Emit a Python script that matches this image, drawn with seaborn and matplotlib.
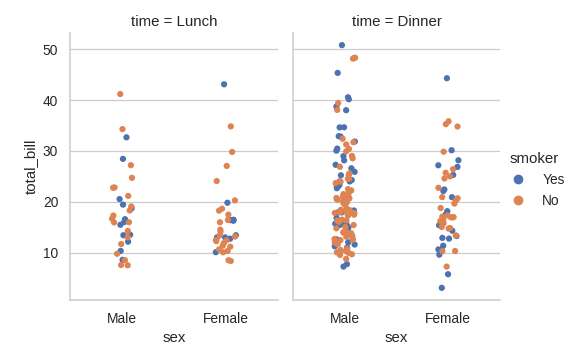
import numpy as np
import pandas as pd
import matplotlib
matplotlib.use("Agg")
import matplotlib.pyplot as plt
from matplotlib.collections import PathCollection
from matplotlib.lines import Line2D
import seaborn as sns

# total_bill values per (time, sex, smoker) group
lunch_male_yes = [19.44, 32.68, 16.00, 28.44, 15.48, 16.58, 10.34, 13.51, 18.71, 20.53,
                  12.16, 8.58, 13.42]
lunch_male_no = [27.20, 22.76, 17.29, 16.66, 15.98, 13.03, 18.28, 24.71, 21.16, 11.69,
                 14.26, 15.95, 8.52, 22.82, 19.08, 34.30, 41.19, 9.78, 7.51, 7.56]
lunch_female_yes = [19.81, 43.11, 13.00, 12.74, 13.00, 16.40, 16.47, 13.42, 16.27, 10.09]
lunch_female_no = [10.07, 34.83, 10.65, 12.43, 24.08, 13.42, 12.48, 29.80, 14.52, 11.38,
                   20.27, 11.17, 12.26, 18.26, 8.51, 10.33, 14.15, 13.16, 17.47, 27.05,
                   16.43, 8.35, 18.64, 11.87, 15.98]
dinner_male_yes = [38.01, 11.24, 20.29, 13.81, 11.02, 18.29, 15.01, 17.92, 28.97, 40.17,
                   27.28, 12.03, 21.01, 15.36, 20.49, 25.21, 50.81, 15.81, 7.25, 31.85,
                   16.82, 32.90, 17.89, 14.48, 34.63, 34.65, 23.33, 45.35, 23.17, 40.55,
                   30.46, 23.10, 15.69, 26.59, 38.73, 24.27, 30.06, 25.89, 28.15, 11.59,
                   7.74, 24.01, 15.69, 15.53, 12.60, 32.83, 22.67]
dinner_male_no = [10.34, 21.01, 23.68, 25.29, 8.77, 26.88, 15.04, 14.78, 10.27, 15.42,
                  18.43, 21.58, 16.29, 20.65, 17.92, 39.42, 19.82, 17.81, 13.37, 12.69,
                  21.70, 9.55, 18.35, 17.78, 24.06, 16.31, 18.69, 31.27, 16.04, 17.46,
                  13.94, 9.68, 30.40, 18.29, 22.23, 32.40, 28.55, 18.04, 12.54, 9.94,
                  25.56, 19.49, 48.27, 17.59, 20.08, 20.23, 12.02, 10.51, 22.49, 12.46,
                  18.24, 14.00, 38.07, 23.95, 29.93, 14.07, 13.13, 17.26, 24.55, 19.77,
                  48.17, 16.49, 21.50, 12.66, 13.81, 24.52, 20.76, 31.71, 20.69, 48.33,
                  20.45, 13.28, 11.61, 10.77, 10.07, 29.03, 17.82]
dinner_female_yes = [3.07, 26.86, 25.28, 5.75, 16.32, 11.35, 15.38, 44.30, 22.42, 14.31,
                     17.51, 10.59, 10.63, 9.60, 20.90, 18.15, 12.76, 13.27, 28.17, 12.90,
                     30.14, 22.12, 27.18]
dinner_female_no = [16.99, 24.59, 35.26, 14.83, 10.33, 16.97, 20.29, 15.77, 19.65, 15.06,
                    20.69, 16.93, 10.29, 34.81, 26.41, 16.45, 17.07, 14.73, 22.75, 20.92,
                    7.25, 25.71, 17.31, 29.85, 25.00, 13.39, 16.21, 35.83, 18.78]

sex_levels = ["Male", "Female"]
smoker_levels = ["Yes", "No"]
time_levels = ["Lunch", "Dinner"]

groups = [
    ("Lunch", "Male", "Yes", lunch_male_yes),
    ("Lunch", "Male", "No", lunch_male_no),
    ("Lunch", "Female", "Yes", lunch_female_yes),
    ("Lunch", "Female", "No", lunch_female_no),
    ("Dinner", "Male", "Yes", dinner_male_yes),
    ("Dinner", "Male", "No", dinner_male_no),
    ("Dinner", "Female", "Yes", dinner_female_yes),
    ("Dinner", "Female", "No", dinner_female_no),
]
rows = []
for t, s, sm, vals in groups:
    for v in vals:
        rows.append({"total_bill": v, "sex": s, "smoker": sm, "time": t})
df = pd.DataFrame(rows)
df["sex"] = pd.Categorical(df["sex"], categories=sex_levels)
df["smoker"] = pd.Categorical(df["smoker"], categories=smoker_levels)
df["time"] = pd.Categorical(df["time"], categories=time_levels)

DPI = 90
sns.set_theme(style="whitegrid")
plt.rcParams["font.family"] = ["Liberation Sans", "DejaVu Sans"]
plt.rcParams["figure.dpi"] = DPI
plt.rcParams["savefig.dpi"] = DPI

np.random.seed(0)
g = sns.catplot(data=df, x="sex", y="total_bill", hue="smoker", col="time",
                kind="strip", height=4.0, aspect=0.7)

W, H = 577, 360
g.figure.set_size_inches(W / DPI, H / DPI)
axes = g.axes.flat
axes[0].set_position([70 / W, 1 - 300 / H, 208 / W, 267 / H])
axes[1].set_position([293 / W, 1 - 300 / H, 207 / W, 267 / H])
leg = g._legend
leg.set_bbox_to_anchor((1.0, 0.5), transform=g.figure.transFigure)
for h in leg.legend_handles:
    if isinstance(h, PathCollection):
        h.set_sizes([60])
    elif isinstance(h, Line2D):
        h.set_markersize(7.8)

g.figure.savefig("out.png", dpi=DPI)
